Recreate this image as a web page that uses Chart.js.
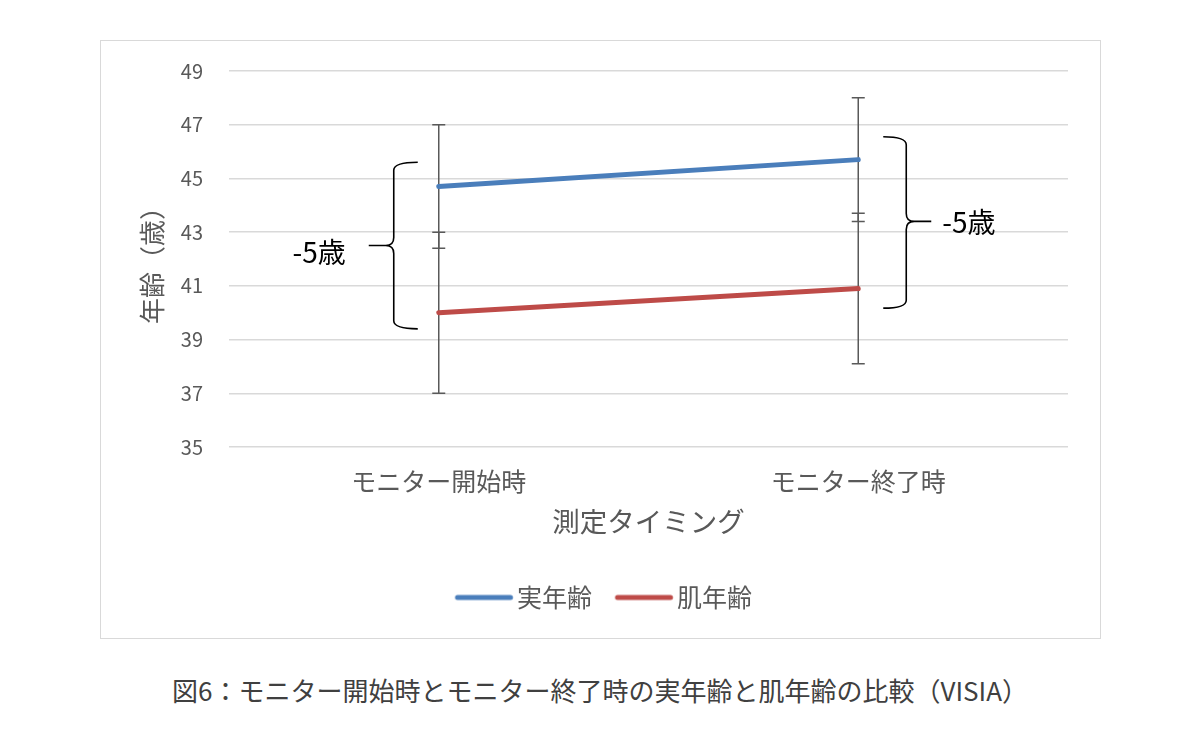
<!DOCTYPE html>
<html lang="ja">
<head>
<meta charset="UTF-8">
<title>図6 実年齢と肌年齢の比較</title>
<script src="https://cdn.jsdelivr.net/npm/chart.js@4.4.0/dist/chart.umd.min.js"></script>
<style>
  * { box-sizing: border-box; margin: 0; padding: 0; }
  body { width: 1200px; height: 741px; background: #fff; position: relative;
         font-family: 'Noto Sans CJK JP', 'Noto Sans', sans-serif; }
  .frame { position: absolute; left: 100px; top: 40px; width: 1001px; height: 599px;
           border: 1px solid #d9d9d9; }
  .caption { position: absolute; left: 0; top: 673px; width: 1200px; text-align: center;
             font-size: 26px; line-height: 34px; color: #404040; }
</style>
</head>
<body>
<div class="frame"><canvas id="chart"></canvas></div>
<div class="caption">図6：モニター開始時とモニター終了時の実年齢と肌年齢の比較（VISIA）</div>

<script>
// ── データ ────────────────────────────────────────────────
const categories = ['モニター開始時', 'モニター終了時']
const realAge    = [44.7, 45.7]   // 実年齢
const skinAge    = [40.0, 40.9]   // 肌年齢
const realAgeErr = [2.3, 2.3]
const skinAgeErr = [3.0, 2.8]

// 波括弧の範囲（y 値）
const braceTop    = [45.6, 46.55]
const braceBottom = [39.4, 40.17]
const braceTip    = [42.5, 43.4]
const braceLabels = ['-5歳', '-5歳']

const FONT  = "'Noto Sans CJK JP', 'Noto Sans', sans-serif"
const GRAY  = '#595959'
const BLUE  = '#4a7ebb'
const RED   = '#be4b48'

// 凡例用の線（テキストに近づけるため右寄りに描く）
function legendLine(color) {
  const c = document.createElement('canvas')
  c.width = 80; c.height = 10
  const g = c.getContext('2d')
  g.strokeStyle = color
  g.lineWidth = 5
  g.lineCap = 'round'
  g.beginPath(); g.moveTo(13.75, 5); g.lineTo(66.75, 5); g.stroke()
  return c
}

// ── エラーバー ────────────────────────────────────────────
const errorBars = {
  id: 'errorBars',
  beforeDatasetsDraw(chart) {
    const { ctx, scales: { x, y } } = chart
    const sets = [[realAge, realAgeErr], [skinAge, skinAgeErr]]
    ctx.save()
    ctx.strokeStyle = GRAY
    ctx.lineWidth = 1.5
    for (const [vals, errs] of sets) {
      vals.forEach((v, i) => {
        const px = x.getPixelForValue(i)
        const top = y.getPixelForValue(v + errs[i])
        const bot = y.getPixelForValue(v - errs[i])
        ctx.beginPath()
        ctx.moveTo(px, top); ctx.lineTo(px, bot)
        ctx.moveTo(px - 6.5, top); ctx.lineTo(px + 6.5, top)
        ctx.moveTo(px - 6.5, bot); ctx.lineTo(px + 6.5, bot)
        ctx.stroke()
      })
    }
    ctx.restore()
  }
}

// ── 波括弧と注記 ──────────────────────────────────────────
function drawBrace(ctx, spineX, endX, tipX, yt, ym, yb) {
  const dir = endX > spineX ? 1 : -1   // 端が伸びる向き
  const r = 8
  ctx.beginPath()
  ctx.moveTo(endX, yt)
  ctx.quadraticCurveTo(spineX, yt, spineX, yt + r)
  ctx.lineTo(spineX, ym - r)
  ctx.quadraticCurveTo(spineX, ym, spineX - dir * r, ym)
  ctx.lineTo(tipX, ym)
  ctx.moveTo(spineX - dir * r, ym)
  ctx.quadraticCurveTo(spineX, ym, spineX, ym + r)
  ctx.lineTo(spineX, yb - r)
  ctx.quadraticCurveTo(spineX, yb, endX, yb)
  ctx.stroke()
}

const braces = {
  id: 'braces',
  afterDraw(chart) {
    const { ctx, scales: { x, y } } = chart
    ctx.save()
    ctx.strokeStyle = '#000'
    ctx.lineWidth = 1.6
    ctx.fillStyle = '#000'
    ctx.font = `28px ${FONT}`
    ctx.textBaseline = 'middle'
    braceTop.forEach((_, i) => {
      const cx = x.getPixelForValue(i)
      const yt = y.getPixelForValue(braceTop[i])
      const ym = y.getPixelForValue(braceTip[i])
      const yb = y.getPixelForValue(braceBottom[i])
      if (i === 0) {
        drawBrace(ctx, cx - 45, cx - 21, cx - 70, yt, ym, yb)
        ctx.textAlign = 'right'
        ctx.fillText(braceLabels[i], cx - 93, ym + 7)
      } else {
        drawBrace(ctx, cx + 48, cx + 25, cx + 73, yt, ym, yb)
        ctx.textAlign = 'left'
        ctx.fillText(braceLabels[i], cx + 84, ym + 1)
      }
    })
    ctx.restore()
  }
}

// 凡例を少し右へずらす
const legendShift = {
  id: 'legendShift',
  afterLayout(chart) {
    chart.legend.left += 23
    chart.legend.right += 23
  }
}

new Chart(document.getElementById('chart'), {
  type: 'line',
  data: {
    labels: categories,
    datasets: [
      { label: '実年齢', data: realAge, borderColor: BLUE, backgroundColor: BLUE,
        borderWidth: 5, borderCapStyle: 'round', pointRadius: 0, tension: 0,
        pointStyle: legendLine(BLUE) },
      { label: '肌年齢', data: skinAge, borderColor: RED, backgroundColor: RED,
        borderWidth: 5, borderCapStyle: 'round', pointRadius: 0, tension: 0,
        pointStyle: legendLine(RED) },
    ]
  },
  options: {
    responsive: true, maintainAspectRatio: false, animation: false,
    layout: { padding: { top: 30, right: 32, left: 0, bottom: 18 } },
    plugins: {
      tooltip: { enabled: false },
      legend: {
        position: 'bottom',
        labels: { usePointStyle: true, pointStyleWidth: 41.5,
                  padding: 31, color: GRAY, font: { family: FONT, size: 25 } }
      }
    },
    scales: {
      x: {
        offset: true,
        grid: { display: false, drawTicks: false },
        border: { display: false },
        ticks: { color: GRAY, padding: 19, font: { family: FONT, size: 25 } },
        title: { display: true, text: '測定タイミング', color: GRAY,
                 padding: { top: 0, bottom: 15.8 }, font: { family: FONT, size: 27.5 } },
        afterFit(s) { s.height = 107 }
      },
      y: {
        min: 35, max: 49,
        grid: { color: '#d9d9d9', lineWidth: 1.5, drawTicks: false },
        border: { display: false },
        ticks: { stepSize: 2, color: GRAY, padding: 26, font: { family: FONT, size: 20 } },
        title: { display: true, text: '年齢（歳）', color: GRAY,
                 padding: { top: 36, bottom: 0 }, font: { family: FONT, size: 26 } },
        afterFit(s) { s.width = 128; s.paddingTop = 0; s.paddingBottom = 0 }
      }
    }
  },
  plugins: [errorBars, braces, legendShift]
})
</script>
</body>
</html>
